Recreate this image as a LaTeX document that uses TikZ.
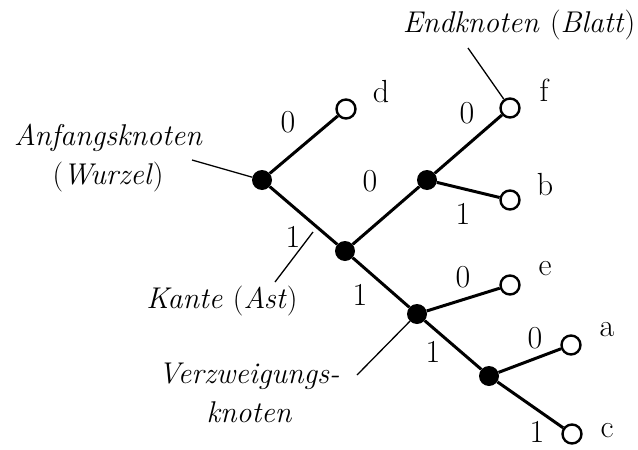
\documentclass[tikz,border=0pt]{standalone}
\usepackage{fontspec}
\begin{document}
\begin{tikzpicture}[x=1pt,y=-1pt,
  inner/.style={circle,fill=black,inner sep=0pt,minimum size=20pt},
  leaf/.style={circle,draw=black,fill=white,line width=2.4pt,inner sep=0pt,minimum size=19pt},
  edge/.style={line width=3pt},
  ptr/.style={line width=1.3pt},
  lbl/.style={font=\fontsize{32}{34}\selectfont\addfontfeature{FakeBold=3},inner sep=0pt},
  note/.style={font=\fontsize{30}{39}\selectfont\itshape\addfontfeature{FakeBold=3},inner sep=0pt,align=center}]
\useasboundingbox (0,0) rectangle (638,450);
% nodes
\node[inner] (r) at (262,180) {};
\node[inner] (n2) at (345,251) {};
\node[inner] (n5) at (427,180) {};
\node[inner] (n3) at (417,314) {};
\node[inner] (n4) at (489,376) {};
\node[leaf] (d) at (346,109) {};
\node[leaf] (f) at (510,108) {};
\node[leaf] (b) at (510,200) {};
\node[leaf] (e) at (510,285) {};
\node[leaf] (a) at (571,345) {};
\node[leaf] (c) at (572,434) {};
% edges
\draw[edge] (r) -- (d);
\draw[edge] (r) -- (n2);
\draw[edge] (n2) -- (n5);
\draw[edge] (n5) -- (f);
\draw[edge] (n5) -- (b);
\draw[edge] (n2) -- (n3);
\draw[edge] (n3) -- (e);
\draw[edge] (n3) -- (n4);
\draw[edge] (n4) -- (a);
\draw[edge] (n4) -- (c);
% leaf letters
\node[lbl] (ld) at (381,92) {d};
\node[lbl] (lf) at (544,90) {f};
\node[lbl] (lb) at (545,185) {b};
\node[lbl] (le) at (545,269) {e};
\node[lbl] (la) at (607,330) {a};
\node[lbl] (lc) at (607,431) {c};
% edge labels
\node[lbl] (e1) at (288,122) {0};
\node[lbl] (e2) at (293,237) {1};
\node[lbl] (e3) at (370,181) {0};
\node[lbl] (e4) at (467,113) {0};
\node[lbl] (e5) at (463,214) {1};
\node[lbl] (e6) at (360,295) {1};
\node[lbl] (e7) at (463,277) {0};
\node[lbl] (e8) at (433,352) {1};
\node[lbl] (e9) at (535,338) {0};
\node[lbl] (e10) at (537,432) {1};
% annotations
\node[note] (wurzel) at (108,158) {Anfangsknoten\\\textup{(}Wurzel\textup{)}};
\node[note] (blatt) at (519,25) {Endknoten \textup{(}Blatt\textup{)}};
\node[note] (kante) at (222,301) {Kante \textup{(}Ast\textup{)}};
\node[note] (verzw) at (249,393) {Verzweigungs-\\knoten};
\coordinate (pw) at (192,160);
\coordinate (pb) at (468,48);
\coordinate (pk1) at (313,232);
\coordinate (pk2) at (275,282);
\coordinate (pv) at (357,375);
\draw[ptr] (pw) -- (r);
\draw[ptr] (pb) -- (f);
\draw[ptr] (pk1) -- (pk2);
\draw[ptr] (pv) -- (n3);
\end{tikzpicture}
\end{document}
